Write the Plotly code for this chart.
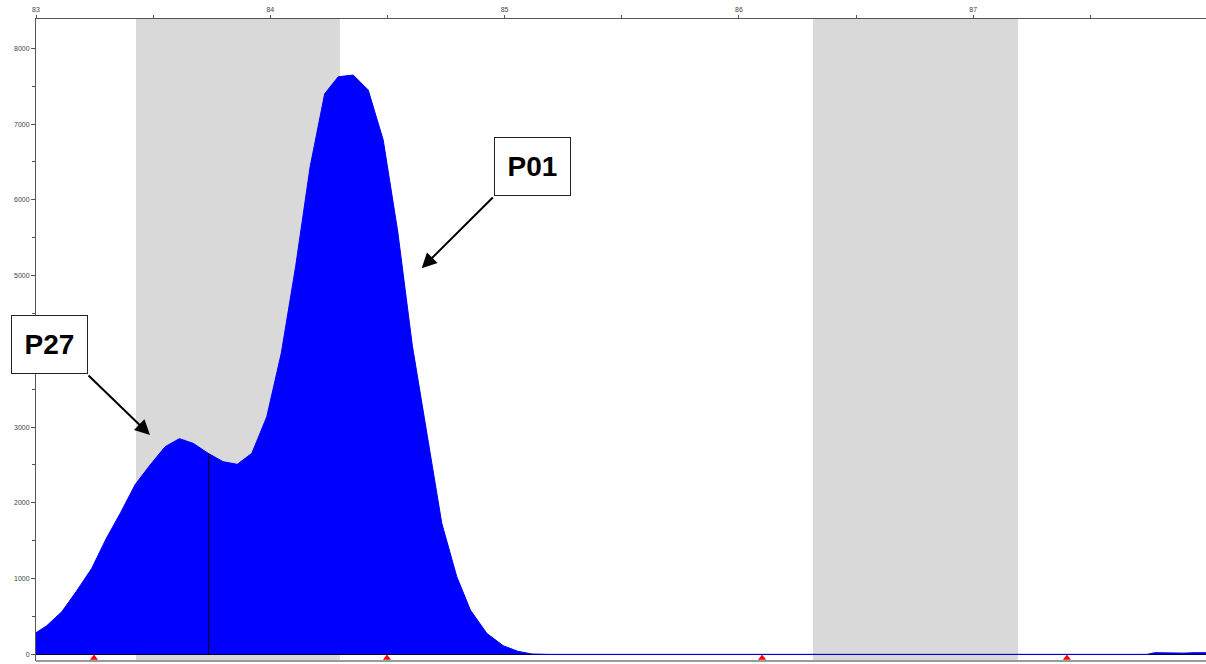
import numpy as np
import plotly.graph_objects as go

# ---- data ----
size_bp = [83.000, 83.046, 83.110, 83.172, 83.238, 83.300, 83.361, 83.423, 83.487, 83.551,
           83.612, 83.671, 83.735, 83.799, 83.859, 83.921, 83.985, 84.047, 84.108, 84.170,
           84.232, 84.290, 84.354, 84.418, 84.482, 84.544, 84.606, 84.668, 84.732, 84.796,
           84.854, 84.924, 84.994, 85.056, 85.117, 85.181, 86.000, 87.000, 87.742, 87.775,
           87.800, 87.824, 87.840, 87.900, 87.940, 87.995]
rfu = [285, 378, 562, 830, 1135, 1530, 1870, 2240, 2499, 2741,
       2847, 2785, 2653, 2543, 2508, 2653, 3137, 3977, 5117, 6437,
       7400, 7625, 7647, 7449, 6789, 5579, 4080, 2900, 1729, 1024,
       585, 277, 114, 40, 5, 0, 0, 0, 0, 22,
       20, 15, 14, 16, 22, 22]

bins = [(83.427, 84.297), (86.316, 87.191)]     # gray bin windows
ladder_x = [83.2475, 84.498, 86.099, 87.400]    # red ladder markers
split_x = 83.737                                # peak split line
labels = ["P27", "P01"]
y_tick_vals = [0, 1000, 2000, 3000, 5000, 6000, 7000, 8000]   # 4000 is hidden by the P27 box

x_range = [83.0, 87.9936]
y_range = [-88, 8387]

fig = go.Figure()

# electropherogram
fig.add_trace(go.Scatter(
    x=size_bp, y=rfu, mode="lines", fill="tozeroy",
    line=dict(color="#0000ff", width=1), fillcolor="#0000ff",
    hoverinfo="skip", showlegend=False))

# ladder markers
fig.add_trace(go.Scatter(
    x=ladder_x, y=[-48] * len(ladder_x), mode="markers",
    marker=dict(symbol="triangle-up", color="#ff0000", size=7),
    cliponaxis=False, showlegend=False, hoverinfo="skip"))

shapes = []
for x0, x1 in bins:
    shapes.append(dict(type="rect", xref="x", yref="paper", x0=x0, x1=x1, y0=0, y1=1,
                       fillcolor="#d9d9d9", line=dict(width=0), layer="below"))
split_top = float(np.interp(split_x, size_bp, rfu))
shapes.append(dict(type="line", xref="x", yref="y", x0=split_x, x1=split_x, y0=0, y1=split_top,
                   line=dict(color="black", width=1)))
shapes.append(dict(type="line", xref="paper", yref="paper", x0=0, x1=1, y0=0, y1=0,
                   line=dict(color="#9a9a9a", width=2)))

annotations = []
boxes = [
    # label, box center, arrow start, arrow tip
    (labels[0], (83.0555, 4090), (83.2177, 3700), (83.4866, 2895)),
    (labels[1], (85.117, 6437), (84.956, 6050), (84.646, 5096)),
]
for txt, (bx, by), (sx, sy), (tx, ty) in boxes:
    annotations.append(dict(
        x=bx, y=by, xref="x", yref="y", text="<b>%s</b>" % txt, showarrow=False,
        font=dict(family="Liberation Sans, Arial", size=28, color="black"),
        bordercolor="#222", borderwidth=1, borderpad=0, bgcolor="white",
        width=75, height=57, xanchor="center", yanchor="middle", align="center"))
    annotations.append(dict(
        x=tx, y=ty, xref="x", yref="y", ax=sx, ay=sy, axref="x", ayref="y",
        text="", showarrow=True, arrowhead=2, arrowsize=1.5, arrowwidth=2,
        arrowcolor="black", standoff=0, startstandoff=0))

fig.update_layout(
    width=1206, height=664,
    margin=dict(l=36, r=0, t=19, b=3),
    paper_bgcolor="white", plot_bgcolor="white",
    shapes=shapes, annotations=annotations,
    font=dict(family="Liberation Sans, Arial", size=7, color="#333"),
    xaxis=dict(range=x_range, side="top", showgrid=False, zeroline=False,
               showline=True, linecolor="#555", linewidth=1,
               tickmode="linear", tick0=83, dtick=1, ticks="outside", ticklen=3,
               tickcolor="#555", tickfont=dict(size=7, color="#444"),
               minor=dict(dtick=0.5, tick0=83, ticks="outside", ticklen=3, tickcolor="#555")),
    yaxis=dict(range=y_range, showgrid=False, zeroline=True, zerolinecolor="black",
               zerolinewidth=1, showline=True, linecolor="#555", linewidth=1,
               tickmode="array", tickvals=y_tick_vals, ticks="outside", ticklen=4,
               tickcolor="#555", tickfont=dict(size=7, color="#444"),
               minor=dict(dtick=500, tick0=0, ticks="outside", ticklen=3, tickcolor="#555")),
)

fig.write_html("out.html")
